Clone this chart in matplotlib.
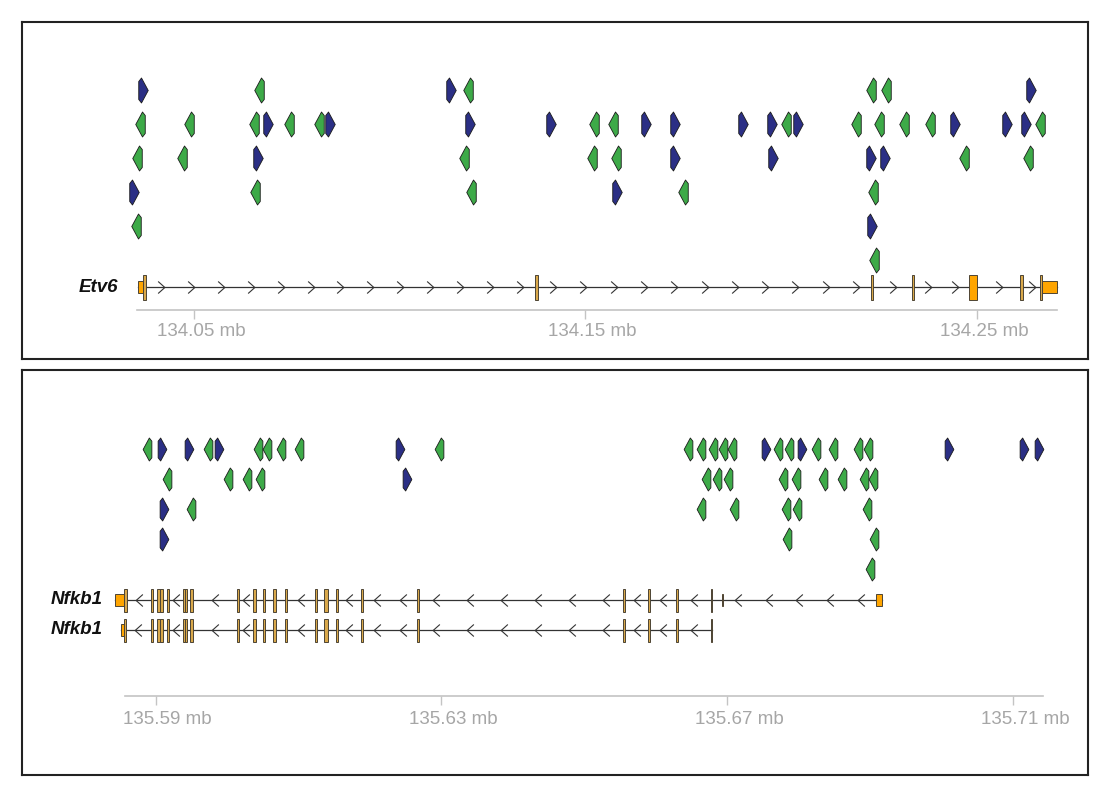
import numpy as np
import matplotlib
matplotlib.use("Agg")
import matplotlib.pyplot as plt
from matplotlib.path import Path
from matplotlib.patches import Rectangle
from matplotlib.transforms import blended_transform_factory, offset_copy

plt.rcParams["font.family"] = ["Liberation Sans", "DejaVu Sans"]

# ---------------- Etv6 region (Mb) ----------------
etv6_ticks = [134.05, 134.15, 134.25]
etv6_axis = (134.0354, 134.2704)
etv6_view = (134.00607, 134.27835)

etv6_motif_pos = [
    134.0370, 134.0666, 134.1156, 134.1200, 134.2228, 134.2267, 134.2638,
    134.0362, 134.0487, 134.0653, 134.0689, 134.0743, 134.0819, 134.0847,
    134.1205, 134.1412, 134.1522, 134.1570, 134.1655, 134.1729, 134.1902,
    134.1976, 134.2012, 134.2043, 134.2191, 134.2250, 134.2314, 134.2380,
    134.2444, 134.2577, 134.2625, 134.2661,
    134.0354, 134.0469, 134.0663, 134.1190, 134.1517, 134.1578, 134.1729,
    134.1979, 134.2229, 134.2265, 134.2467, 134.2630,
    134.0347, 134.0656, 134.1208, 134.1580, 134.1749, 134.2234,
    134.0352, 134.2232,
    134.2237,
]
etv6_motif_row = [0] * 7 + [1] * 25 + [2] * 12 + [3] * 6 + [4] * 2 + [5]
etv6_motif_strand = ("+-+---+"
                     "---+--+++--++++-+----+++-"
                     "--+---++++--"
                     "+--+--"
                     "-+"
                     "-")

etv6_exons = [
    (134.03570, 134.03697, "utr"), (134.03697, 134.03774, "cds"),
    (134.13710, 134.13787, "cds"), (134.22293, 134.22356, "cds"),
    (134.23340, 134.23391, "cds"), (134.24796, 134.25000, "mixed"),
    (134.26098, 134.26175, "cds"), (134.26609, 134.26660, "cds"),
    (134.26660, 134.27043, "utr"),
]

# ---------------- Nfkb1 region (Mb) ----------------
nfkb1_ticks = [135.59, 135.63, 135.67, 135.71]
nfkb1_axis = (135.58570, 135.71422)
nfkb1_view = (135.57128, 135.72052)

nfkb1_motif_pos = [
    135.58874, 135.59092, 135.59470, 135.59736, 135.59890, 135.60428, 135.60554,
    135.60750, 135.61006, 135.62420, 135.62966, 135.66456, 135.66630, 135.66806,
    135.66938, 135.67064, 135.67544, 135.67716, 135.67870, 135.68052, 135.68240,
    135.68478, 135.68828, 135.68976, 135.70110, 135.71160, 135.71370,
    135.59154, 135.60008, 135.60274, 135.60460, 135.62522, 135.66700, 135.66862,
    135.67016, 135.67786, 135.67964, 135.68346, 135.68604, 135.68916, 135.69038,
    135.59116, 135.59494, 135.66630, 135.67096, 135.67824, 135.67974, 135.68954,
    135.59116, 135.67842, 135.69056,
    135.69000,
]
nfkb1_motif_row = [0] * 27 + [1] * 14 + [2] * 7 + [3] * 3 + [4]
nfkb1_motif_strand = ("-++-+----+------+--+----+++"
                      "----+---------"
                      "+------"
                      "+--"
                      "-")

nfkb1_shared = [
    (135.58930, 135.58966), (135.59022, 135.59060), (135.59060, 135.59098),
    (135.59154, 135.59186), (135.59378, 135.59410), (135.59410, 135.59442),
    (135.59480, 135.59518), (135.60134, 135.60170), (135.60366, 135.60400),
    (135.60498, 135.60534), (135.60646, 135.60680), (135.60810, 135.60842),
    (135.61230, 135.61262), (135.61356, 135.61416), (135.61520, 135.61556),
    (135.61870, 135.61906), (135.62654, 135.62686), (135.65538, 135.65566),
    (135.65896, 135.65916), (135.66284, 135.66308), (135.66770, 135.66792),
]
nfkb1_tx1 = ([(135.58430, 135.58556, "utr"), (135.58556, 135.58598, "cds")]
             + [(s, e, "cds") for s, e in nfkb1_shared]
             + [(135.66924, 135.66938, "utr"), (135.69084, 135.69168, "utr")])
nfkb1_tx2 = ([(135.58514, 135.58556, "utr"), (135.58556, 135.58584, "cds")]
             + [(s, e, "cds") for s, e in nfkb1_shared])

# ---------------- styling ----------------
NAVY = "#2b2f85"
GREEN = "#3daa48"
CDS = "#d9a84a"
UTR = "#ffa500"
EXON_EDGE = "#4d4434"
LINE = "#333333"
AXIS_GREY = "#c4c4c4"
LABEL_GREY = "#a6a6a6"
FRAME = "#222222"

W, H = 1116, 800

fwd_verts = [(-0.08, 0.5), (0.19, 0.0), (-0.08, -0.5), (-0.19, -0.36),
             (-0.19, 0.36), (-0.08, 0.5)]
FWD = Path(fwd_verts, closed=True)
REV = Path([(-x, y) for x, y in fwd_verts], closed=True)
CHEV_R = Path([(-0.28, 0.5), (0.28, 0.0), (-0.28, -0.5)],
              [Path.MOVETO, Path.LINETO, Path.LINETO])
CHEV_L = Path([(0.28, 0.5), (-0.28, 0.0), (0.28, -0.5)],
              [Path.MOVETO, Path.LINETO, Path.LINETO])

PX = 0.72  # points per pixel at dpi 100


def make_panel(fig, box, view):
    x0, y0, x1, y1 = box
    ax = fig.add_axes([x0 / W, 1 - y1 / H, (x1 - x0) / W, (y1 - y0) / H])
    ax.set_xlim(*view)
    ax.set_ylim(y1, y0)
    ax.set_xticks([])
    ax.set_yticks([])
    for sp in ax.spines.values():
        sp.set_color(FRAME)
        sp.set_linewidth(1.5)
    ax.px_per_mb = (x1 - x0) / (view[1] - view[0])
    return ax


def draw_motifs(ax, pos, row, strand, y0, dy, size_px):
    pos = np.asarray(pos)
    y = y0 + dy * np.asarray(row)
    st = np.array(list(strand))
    for s, mk, col in (("+", FWD, NAVY), ("-", REV, GREEN)):
        m = st == s
        ax.plot(pos[m], y[m], ls="none", marker=mk, ms=size_px * PX,
                mfc=col, mec="#1a1a1a", mew=0.6, zorder=3)


def draw_gene(ax, exons, y, full_h, utr_h, strand, spacing_px):
    ex = sorted(exons)
    start, end = ex[0][0], max(e for _, e, _ in ex)
    ax.plot([start, end], [y, y], color=LINE, lw=0.9, zorder=1)
    chev = CHEV_R if strand == "+" else CHEV_L
    cx = []
    for (_, e1, _), (s2, _, _) in zip(ex[:-1], ex[1:]):
        gap_px = (s2 - e1) * ax.px_per_mb
        if gap_px < 12:
            continue
        n = max(1, int(round(gap_px / spacing_px)))
        cx += [e1 + (s2 - e1) * (i + 0.5) / n for i in range(n)]
    ax.plot(cx, [y] * len(cx), ls="none", marker=chev, ms=12 * PX,
            mfc="none", mec=LINE, mew=0.8, zorder=1)
    for s, e, kind in ex:
        h = utr_h if kind == "utr" else full_h
        fc = CDS if kind == "cds" else UTR
        ax.add_patch(Rectangle((s, y - h / 2), e - s, h, fc=fc, ec=EXON_EDGE,
                               lw=0.7, zorder=2))


def draw_axis(ax, span, ticks, y, label_y, label_dx):
    ax.plot(span, [y, y], color=AXIS_GREY, lw=1.2, zorder=1)
    ax.vlines(ticks, y, y + 9, color=AXIS_GREY, lw=1.0)
    tr = offset_copy(ax.transData, fig=ax.figure, x=label_dx * PX, y=0,
                     units="points")
    for t in ticks:
        ax.text(t, label_y, f"{t:.2f} mb", transform=tr, ha="center",
                va="center", fontsize=13.5, color=LABEL_GREY)


def gene_label(ax, text, x_px, y, box_x0, box_x1):
    tr = blended_transform_factory(ax.transAxes, ax.transData)
    ax.text((x_px - box_x0) / (box_x1 - box_x0), y, text, transform=tr,
            ha="right", va="center", fontsize=13.5, fontweight="bold",
            fontstyle="italic", color="#111111")


fig = plt.figure(figsize=(W / 100, H / 100), dpi=100)

# top panel: Etv6
top = make_panel(fig, (22, 22, 1088, 359), etv6_view)
draw_motifs(top, etv6_motif_pos, etv6_motif_row, etv6_motif_strand, 90, 34, 25)
draw_gene(top, etv6_exons, 287, 25, 12, "+", 30)
gene_label(top, "Etv6", 118, 287, 22, 1088)
draw_axis(top, etv6_axis, etv6_ticks, 310, 332, 7)

# bottom panel: Nfkb1
bot = make_panel(fig, (22, 370, 1088, 775), nfkb1_view)
draw_motifs(bot, nfkb1_motif_pos, nfkb1_motif_row, nfkb1_motif_strand, 449, 30, 23)
draw_gene(bot, nfkb1_tx1, 600, 23, 12, "-", 33)
draw_gene(bot, nfkb1_tx2, 630, 23, 12, "-", 33)
gene_label(bot, "Nfkb1", 103, 600, 22, 1088)
gene_label(bot, "Nfkb1", 103, 630, 22, 1088)
draw_axis(bot, nfkb1_axis, nfkb1_ticks, 696, 720, 12)

fig.savefig("out.png", dpi=100)
